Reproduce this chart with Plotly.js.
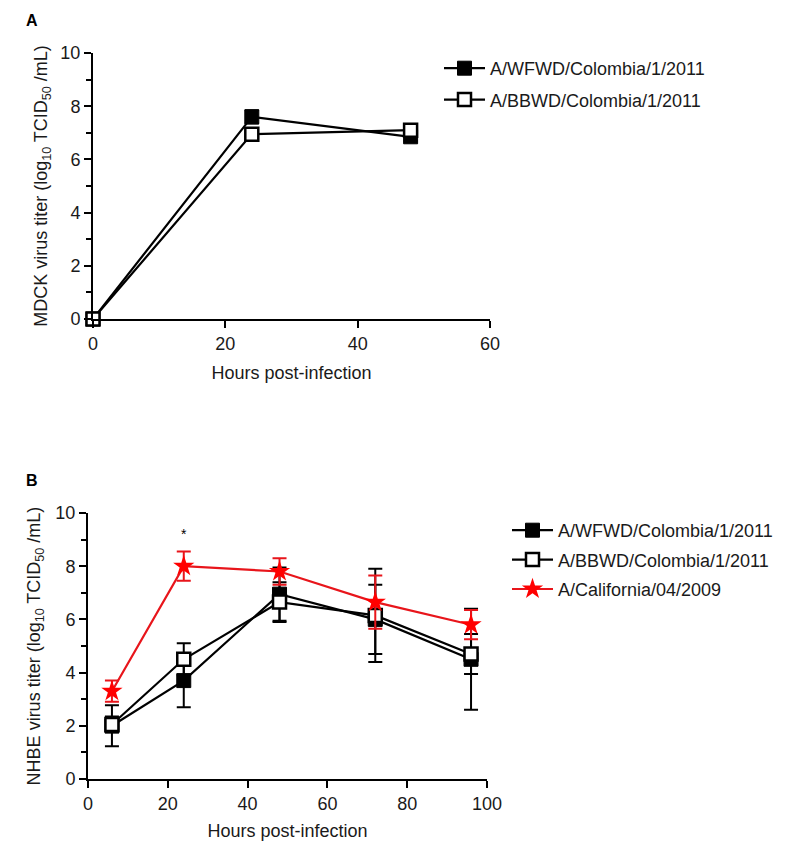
<!DOCTYPE html>
<html>
<head>
<meta charset="utf-8">
<script src="https://cdn.plot.ly/plotly-3.0.1.min.js"></script>
<style>html,body{margin:0;padding:0;background:#fff;}#chart{width:785px;height:841px;}</style>
</head>
<body>
<div id="chart"></div>
<script>
// Panel A: MDCK
const hoursA = [0, 24, 48];
const wfwdA = [0, 7.6, 6.85];
const wfwdAErr = [0, 0.25, 0.15];
const bbwdA = [0, 6.95, 7.1];
const bbwdAErr = [0, 0.1, 0.15];

// Panel B: NHBE
const hoursB = [6, 24, 48, 72, 96];
const wfwdB = [2.0, 3.7, 6.95, 6.0, 4.5];
const wfwdBErr = [0.77, 1.0, 1.0, 1.3, 1.9];
const bbwdB = [2.05, 4.5, 6.65, 6.15, 4.7];
const bbwdBErr = [0.3, 0.6, 0.75, 1.75, 0.75];
const calB = [3.3, 8.0, 7.8, 6.65, 5.8];
const calBErr = [0.4, 0.55, 0.5, 1.0, 0.55];

const names = ['A/WFWD/Colombia/1/2011', 'A/BBWD/Colombia/1/2011', 'A/California/04/2009'];

const W = 785, H = 841;
const FONT = 'Liberation Sans, Arial, sans-serif';
const TXT = '#1a1a1a';
const FS = 18;

function errBar(arr, color) {
  return {type: 'data', array: arr, visible: true, color: color, thickness: 2, width: 7};
}
function mkTrace(x, y, err, name, kind, xa, ya, legend, group) {
  let marker, lineColor = '#000';
  if (kind === 'filled') marker = {symbol: 'square', size: 14, color: '#000', line: {color: '#000', width: 1}};
  else if (kind === 'open') marker = {symbol: 'square', size: 13, color: '#fff', line: {color: '#000', width: 2.5}};
  else { marker = {symbol: 'star', size: 16, color: '#ff0000', line: {color: '#ff0000', width: 0}}; lineColor = '#e8151b'; }
  return {
    type: 'scatter', mode: 'lines+markers', x: x, y: y, name: name,
    xaxis: xa, yaxis: ya, legend: legend, legendgroup: group,
    line: {color: lineColor, width: 2.2}, marker: marker,
    error_y: errBar(err, kind === 'star' ? '#e8151b' : '#000'),
    cliponaxis: false
  };
}

const data = [
  mkTrace(hoursA, wfwdA, wfwdAErr, names[0], 'filled', 'x', 'y', 'legend', 'a1'),
  mkTrace(hoursA, bbwdA, bbwdAErr, names[1], 'open', 'x', 'y', 'legend', 'a2'),
  mkTrace(hoursB, wfwdB, wfwdBErr, names[0], 'filled', 'x2', 'y2', 'legend2', 'b1'),
  mkTrace(hoursB, bbwdB, bbwdBErr, names[1], 'open', 'x2', 'y2', 'legend2', 'b2'),
  mkTrace(hoursB, calB, calBErr, names[2], 'star', 'x2', 'y2', 'legend2', 'b3')
];

function axisCommon() {
  return {
    showline: true, linecolor: '#000', linewidth: 2,
    ticks: 'outside', ticklen: 7, tickwidth: 2, tickcolor: '#000',
    showgrid: false, zeroline: false,
    tickfont: {family: FONT, size: FS, color: TXT},
    fixedrange: true, automargin: false
  };
}
const yTitleA = 'MDCK virus titer (log<sub>10</sub> TCID<sub>50</sub> /mL)';
const yTitleB = 'NHBE virus titer (log<sub>10</sub> TCID<sub>50</sub> /mL)';

const layout = {
  width: W, height: H,
  margin: {l: 0, r: 0, t: 0, b: 0},
  paper_bgcolor: '#fff', plot_bgcolor: '#fff',
  font: {family: FONT, color: TXT},
  showlegend: true,
  xaxis: Object.assign(axisCommon(), {
    domain: [93 / W, 490 / W], range: [0, 60], dtick: 20, tick0: 0, anchor: 'y',
    title: {text: 'Hours post-infection', font: {family: FONT, size: FS, color: TXT}, standoff: 14}
  }),
  yaxis: Object.assign(axisCommon(), {
    domain: [1 - 319 / H, 1 - 53 / H], range: [0, 10], dtick: 2, tick0: 0, anchor: 'x',
    minor: {dtick: 1, ticks: 'outside', ticklen: 5, tickwidth: 2, tickcolor: '#000'},
    title: {text: yTitleA, font: {family: FONT, size: FS, color: TXT}, standoff: 8}
  }),
  xaxis2: Object.assign(axisCommon(), {
    domain: [88 / W, 487 / W], range: [0, 100], dtick: 20, tick0: 0, anchor: 'y2',
    title: {text: 'Hours post-infection', font: {family: FONT, size: FS, color: TXT}, standoff: 12}
  }),
  yaxis2: Object.assign(axisCommon(), {
    domain: [1 - 779 / H, 1 - 513 / H], range: [0, 10], dtick: 2, tick0: 0, anchor: 'x2',
    minor: {dtick: 1, ticks: 'outside', ticklen: 5, tickwidth: 2, tickcolor: '#000'},
    title: {text: yTitleB, font: {family: FONT, size: FS, color: TXT}, standoff: 10}
  }),
  legend: {
    x: 439 / W, y: 1 - 50 / H, xanchor: 'left', yanchor: 'top',
    font: {family: FONT, size: FS, color: TXT}, bgcolor: 'rgba(0,0,0,0)',
    traceorder: 'grouped', tracegroupgap: 5, itemwidth: 41
  },
  legend2: {
    x: 507 / W, y: 1 - 512 / H, xanchor: 'left', yanchor: 'top',
    font: {family: FONT, size: FS, color: TXT}, bgcolor: 'rgba(0,0,0,0)',
    traceorder: 'grouped', tracegroupgap: 3, itemwidth: 41
  },
  annotations: [
    {text: '<b>A</b>', xref: 'paper', yref: 'paper', x: 24 / W, y: 1 - 20 / H, xanchor: 'left', yanchor: 'middle', showarrow: false, font: {family: FONT, size: 16, color: '#000'}},
    {text: '<b>B</b>', xref: 'paper', yref: 'paper', x: 24 / W, y: 1 - 480 / H, xanchor: 'left', yanchor: 'middle', showarrow: false, font: {family: FONT, size: 16, color: '#000'}},
    {text: '*', xref: 'x2', yref: 'y2', x: 24, y: 9.2, showarrow: false, font: {family: FONT, size: 14, color: '#000'}}
  ]
};

Plotly.newPlot('chart', data, layout, {displayModeBar: false, staticPlot: true});
</script>
</body>
</html>
